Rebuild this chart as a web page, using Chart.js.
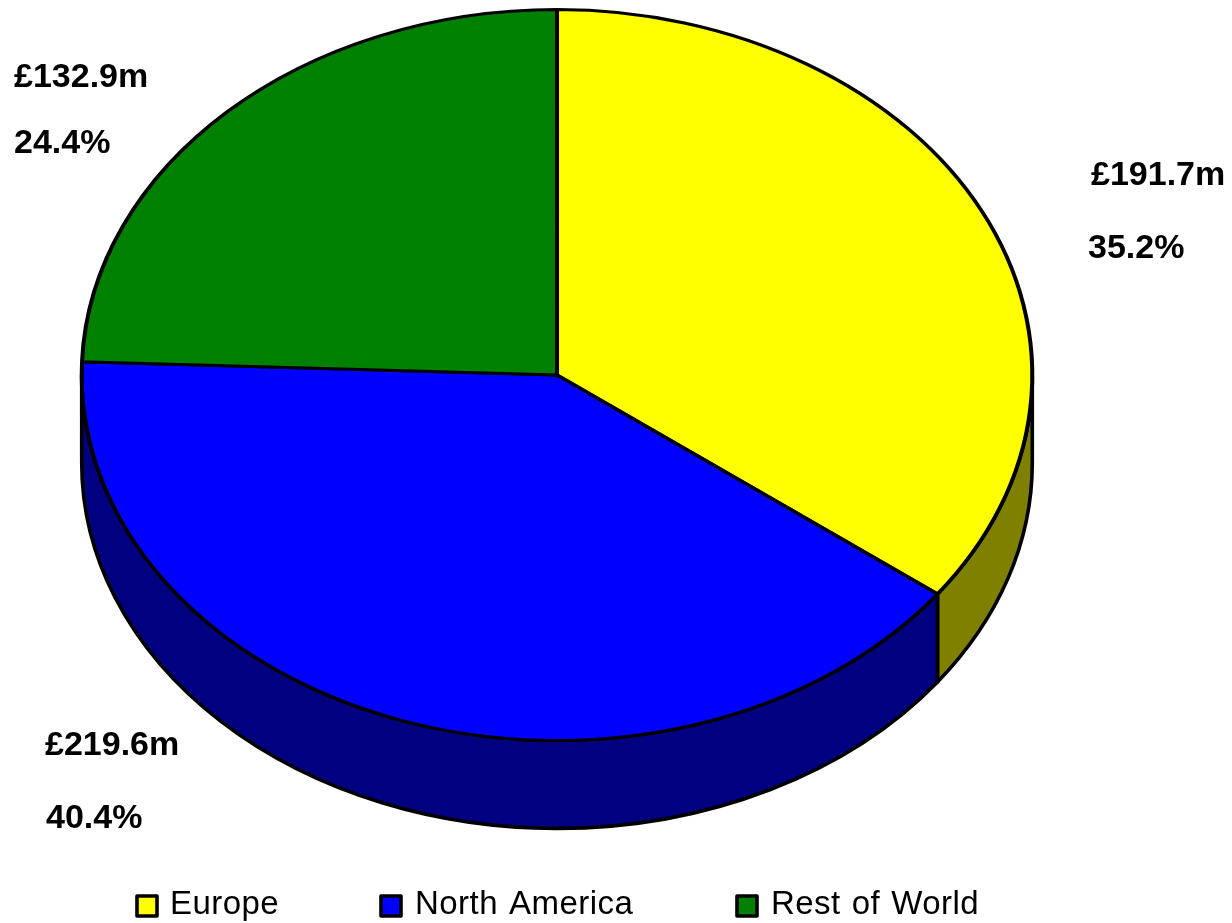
<!DOCTYPE html>
<html>
<head>
<meta charset="utf-8">
<title>Revenue by region</title>
<script src="https://cdn.jsdelivr.net/npm/chart.js@4/dist/chart.umd.js"></script>
<style>
  html, body { margin: 0; padding: 0; background: #fff; }
  canvas { display: block; }
</style>
</head>
<body>
<canvas id="pie" width="1232" height="923"></canvas>
<script>
const categories = ['Europe', 'North America', 'Rest of World'];
const revenue = [191.7, 219.6, 132.9];
const valueLabels = ['£191.7m', '£219.6m', '£132.9m'];
const percentLabels = ['35.2%', '40.4%', '24.4%'];
const topColours = ['#ffff00', '#0000ff', '#008000'];
const wallColours = ['#808000', '#000080', '#004000'];

const FLATTEN_X = 476 / 366; // chart.js only does round pies, stretch it sideways
const DEPTH = 88;
const OUTLINE = 3.6;
const FONT = '"Liberation Sans", Arial, sans-serif';

// where the text sits, same order as categories: [value x, value y, percent x, percent y]
const LABEL_POS = [
  [1091, 185, 1088, 258],
  [45, 755, 46, 828],
  [14, 87, 14, 153]
];
const LEGEND_BOX_X = [137, 381, 737];
const LEGEND_TEXT_X = [170, 415, 771];

const tiltedPie = {
  id: 'tiltedPie',
  beforeDatasetsDraw(chart) {
    const ctx = chart.ctx;
    chart.getDatasetMeta(0).data.forEach((arc, i) => {
      const start = Math.max(arc.startAngle, 0);
      const end = Math.min(arc.endAngle, Math.PI);
      if (end <= start) return;
      ctx.save();
      ctx.translate(arc.x, arc.y);
      ctx.scale(FLATTEN_X, 1);
      ctx.beginPath();
      ctx.arc(0, 0, arc.outerRadius, start, end);
      ctx.arc(0, DEPTH, arc.outerRadius, end, start, true);
      ctx.closePath();
      ctx.restore();
      ctx.fillStyle = wallColours[i];
      ctx.fill();
      ctx.lineWidth = OUTLINE;
      ctx.lineJoin = 'round';
      ctx.strokeStyle = '#000';
      ctx.stroke();
    });
  },
  beforeDatasetDraw(chart) {
    const arc = chart.getDatasetMeta(0).data[0];
    chart.ctx.save();
    chart.ctx.translate(arc.x, 0);
    chart.ctx.scale(FLATTEN_X, 1);
    chart.ctx.translate(-arc.x, 0);
  },
  afterDatasetDraw(chart) {
    chart.ctx.restore();
  },
  afterDraw(chart) {
    const ctx = chart.ctx;
    ctx.save();
    ctx.fillStyle = '#000';
    ctx.textBaseline = 'alphabetic';
    ctx.textAlign = 'left';

    ctx.font = 'bold 34px ' + FONT;
    LABEL_POS.forEach((pos, i) => {
      ctx.fillText(valueLabels[i], pos[0], pos[1]);
      ctx.fillText(percentLabels[i], pos[2], pos[3]);
    });

    ctx.font = '33px ' + FONT;
    ctx.letterSpacing = '0.45px'; // reference text runs a little wide
    ctx.wordSpacing = '1.5px';
    categories.forEach((name, i) => {
      ctx.fillStyle = topColours[i];
      ctx.fillRect(LEGEND_BOX_X[i], 896, 20, 20);
      ctx.lineWidth = OUTLINE;
      ctx.strokeStyle = '#000';
      ctx.strokeRect(LEGEND_BOX_X[i], 896, 20, 20);
      ctx.fillStyle = '#000';
      ctx.fillText(name, LEGEND_TEXT_X[i], 914);
    });
    ctx.restore();
  }
};

new Chart(document.getElementById('pie').getContext('2d'), {
  type: 'pie',
  data: {
    labels: categories,
    datasets: [{
      data: revenue,
      backgroundColor: topColours,
      borderColor: '#000',
      borderWidth: 3.1,
      clip: false
    }]
  },
  options: {
    responsive: false,
    animation: false,
    events: [],
    layout: { padding: { top: 8, left: 0, right: 118, bottom: 181 } },
    plugins: {
      legend: { display: false },
      tooltip: { enabled: false }
    }
  },
  plugins: [tiltedPie]
});
</script>
</body>
</html>
